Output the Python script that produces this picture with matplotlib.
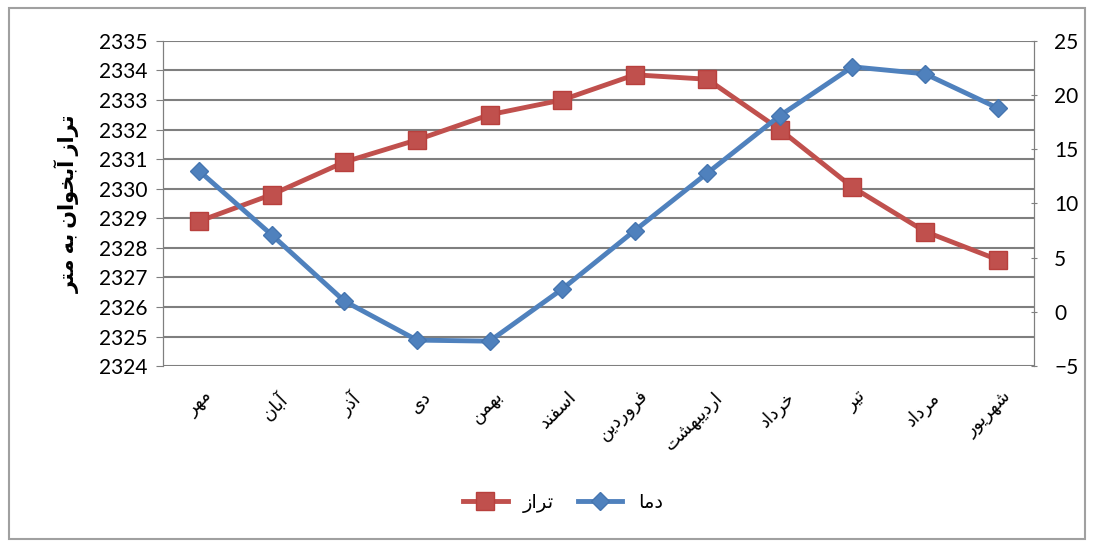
import matplotlib.pyplot as plt
import matplotlib.transforms as mtransforms
from matplotlib.patches import Rectangle

# Persian shaping by hand (matplotlib does no Arabic joining / RTL)
FORMS = {
    'ا': ('\uFE8D', '\uFE8E', None, None),
    'آ': ('\uFE81', '\uFE82', None, None),
    'ب': ('\uFE8F', '\uFE90', '\uFE91', '\uFE92'),
    'ت': ('\uFE95', '\uFE96', '\uFE97', '\uFE98'),
    'خ': ('\uFEA5', '\uFEA6', '\uFEA7', '\uFEA8'),
    'د': ('\uFEA9', '\uFEAA', None, None),
    'ذ': ('\uFEAB', '\uFEAC', None, None),
    'ر': ('\uFEAD', '\uFEAE', None, None),
    'ز': ('\uFEAF', '\uFEB0', None, None),
    'س': ('\uFEB1', '\uFEB2', '\uFEB3', '\uFEB4'),
    'ش': ('\uFEB5', '\uFEB6', '\uFEB7', '\uFEB8'),
    'ف': ('\uFED1', '\uFED2', '\uFED3', '\uFED4'),
    'م': ('\uFEE1', '\uFEE2', '\uFEE3', '\uFEE4'),
    'ن': ('\uFEE5', '\uFEE6', '\uFEE7', '\uFEE8'),
    'ه': ('\uFEE9', '\uFEEA', '\uFEEB', '\uFEEC'),
    'و': ('\uFEED', '\uFEEE', None, None),
    'ی': ('\uFBFC', '\uFBFD', '\uFBFE', '\uFBFF'),
}


def fa(text):
    out = []
    for i, ch in enumerate(text):
        if ch not in FORMS:
            out.append(ch)
            continue
        prev = text[i - 1] if i > 0 else ''
        nxt = text[i + 1] if i + 1 < len(text) else ''
        join_prev = prev in FORMS and FORMS[prev][2] is not None
        join_next = FORMS[ch][2] is not None and nxt in FORMS
        iso, fin, ini, med = FORMS[ch]
        if join_prev and join_next:
            out.append(med)
        elif join_prev:
            out.append(fin)
        elif join_next:
            out.append(ini)
        else:
            out.append(iso)
    return ''.join(out)[::-1]


months = ['مهر', 'آبان', 'آذر', 'دی', 'بهمن', 'اسفند', 'فروردین',
          'اردیبهشت', 'خرداد', 'تیر', 'مرداد', 'شهریور']
level = [2328.9, 2329.8, 2330.9, 2331.65, 2332.5, 2333.0, 2333.85,
         2333.7, 2332.0, 2330.05, 2328.55, 2327.6]
temp = [13.0, 7.1, 1.0, -2.6, -2.7, 2.1, 7.5, 12.8, 18.1, 22.6, 21.95, 18.8]

plt.rcParams['font.family'] = ['Lato', 'DejaVu Sans']

red = '#C0504D'
blue = '#4F81BD'

fig = plt.figure(figsize=(10.93, 5.44), dpi=100)
fig.patches.append(Rectangle((0.008, 0.01), 0.985, 0.975, transform=fig.transFigure,
                             fill=False, edgecolor='#a0a0a0', linewidth=1.5))
ax1 = fig.add_axes([0.149, 0.327, 0.797, 0.598])
ax2 = ax1.twinx()

x = list(range(len(months)))
ax1.plot(x, level, color=red, linewidth=3.5, marker='s', markersize=13,
         markerfacecolor=red, markeredgecolor='#b8403d', label=fa('تراز'))
ax2.plot(x, temp, color=blue, linewidth=3.5, marker='D', markersize=9,
         markerfacecolor=blue, markeredgecolor='#4575b0', label=fa('دما'))

ax1.set_xlim(-0.5, len(months) - 0.5)
ax1.set_ylim(2324, 2335)
ax1.set_yticks(range(2324, 2336))
ax2.set_ylim(-5, 25)
ax2.set_yticks(range(-5, 26, 5))

ax1.grid(axis='y', color='#7f7f7f', linewidth=1.5)
ax1.set_axisbelow(True)
for ax in (ax1, ax2):
    ax.spines['top'].set_visible(False)
    ax.spines['bottom'].set_visible(False)
    ax.spines['left'].set_color('#7f7f7f')
    ax.spines['right'].set_color('#7f7f7f')
ax1.tick_params(axis='y', labelsize=15, length=5, color='#7f7f7f', pad=6)
ax2.tick_params(axis='y', labelsize=15, length=5, color='#7f7f7f', pad=12, direction='inout')
ax1.tick_params(axis='x', length=0, pad=16)

ax1.set_xticks(x)
ax1.set_xticklabels([fa(m) for m in months], rotation=45, ha='right', va='top',
                    rotation_mode='anchor', fontsize=13)
shift = mtransforms.ScaledTranslation(4 / 72, 0, fig.dpi_scale_trans)
for lab in ax1.get_xticklabels():
    lab.set_transform(lab.get_transform() + shift)
ax1.set_ylabel(fa('تراز آبخوان به متر'), fontsize=15, fontweight='bold', labelpad=14)

h1, l1 = ax1.get_legend_handles_labels()
h2, l2 = ax2.get_legend_handles_labels()
fig.legend(h1 + h2, l1 + l2, loc='center', bbox_to_anchor=(0.515, 0.075), ncol=2,
           frameon=False, fontsize=14, handlelength=2.3, columnspacing=1.2)

fig.savefig('out.png', dpi=100)
